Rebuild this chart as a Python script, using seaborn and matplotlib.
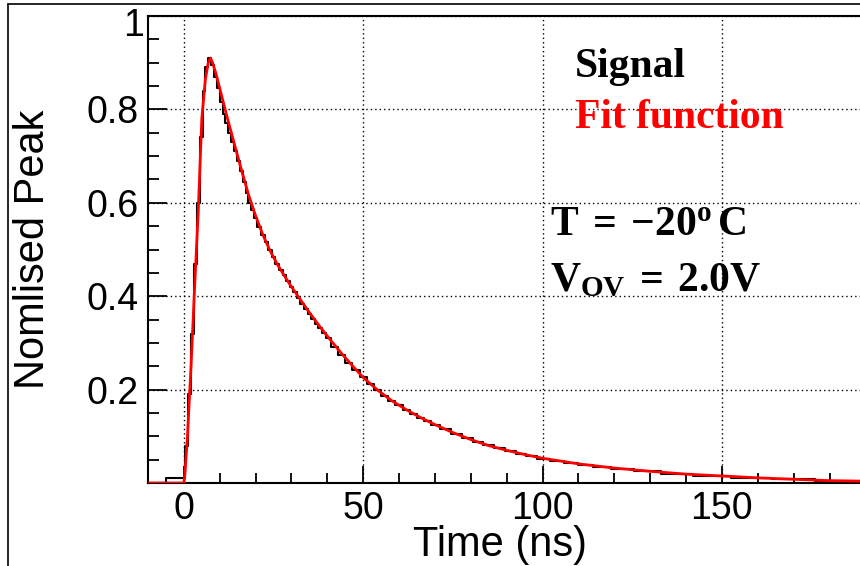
import numpy as np
import pandas as pd
import matplotlib
matplotlib.use("Agg")
import matplotlib.pyplot as plt
import seaborn as sns
from matplotlib.lines import Line2D
from matplotlib.transforms import ScaledTranslation

# ---------------- data ----------------
sig_time = [-10, 0.0, 0.8, 1.6, 2.4, 3.2, 4.0, 4.8, 5.6, 6.4, 7.2, 8.0, 8.8, 9.6,
            10.4, 11.2, 12.0, 12.8, 13.6, 14.4, 15.2, 16.0, 16.8, 17.6, 18.4,
            19.2, 20, 21, 22, 23, 24, 25, 26, 27, 28, 29, 30, 31, 32, 33, 34,
            35, 36, 37, 38, 39, 40, 42, 44, 46, 48, 50, 52, 54, 56, 58, 60, 62,
            64, 66, 68, 70, 73, 76, 79, 82, 85, 88, 91, 94, 97, 100, 104, 108,
            112, 116, 122, 129, 137, 147, 158, 170, 182, 188.5]
sig_value = [0.0, 0.01, 0.08, 0.19, 0.32, 0.47, 0.60, 0.74, 0.84, 0.89, 0.91,
             0.895, 0.87, 0.845, 0.815, 0.79, 0.77, 0.75, 0.73, 0.71, 0.69,
             0.668, 0.645, 0.622, 0.60, 0.585, 0.568, 0.548, 0.53, 0.515, 0.50,
             0.485, 0.47, 0.457, 0.445, 0.432, 0.42, 0.408, 0.396, 0.384, 0.372,
             0.362, 0.351, 0.341, 0.331, 0.321, 0.311, 0.292, 0.275, 0.258,
             0.241, 0.226, 0.212, 0.199, 0.187, 0.176, 0.166, 0.157, 0.148,
             0.14, 0.132, 0.125, 0.115, 0.105, 0.096, 0.088, 0.081, 0.074,
             0.068, 0.062, 0.057, 0.052, 0.047, 0.043, 0.039, 0.035, 0.030,
             0.025, 0.020, 0.015, 0.011, 0.008, 0.004, 0.004]

fit_time = [-10, 0, 0.3, 1.0, 2.0, 3.0, 4.0, 5.0, 6.0, 6.8, 7.4, 8.0, 9.0, 10,
            11, 12, 14, 16, 18, 20, 22, 24, 26, 28, 30, 32, 35, 38, 41, 44, 47,
            50, 54, 58, 62, 66, 70, 75, 80, 85, 90, 95, 100, 110, 120, 130, 140,
            150, 160, 170, 180, 188.5]
fit_value = [0, 0, 0.02, 0.10, 0.25, 0.42, 0.58, 0.78, 0.865, 0.90, 0.91, 0.90,
             0.875, 0.845, 0.815, 0.785, 0.728, 0.672, 0.618, 0.572, 0.532,
             0.498, 0.469, 0.444, 0.42, 0.398, 0.365, 0.334, 0.305, 0.277,
             0.251, 0.226, 0.199, 0.176, 0.157, 0.14, 0.125, 0.108, 0.093,
             0.080, 0.070, 0.061, 0.053, 0.041, 0.032, 0.025, 0.019, 0.015,
             0.011, 0.008, 0.005, 0.004]

x_ticks = [0, 50, 100, 150]
x_tick_labels = ["0", "50", "100", "150"]
y_ticks = [0.2, 0.4, 0.6, 0.8, 1.0]
y_tick_labels = ["0.2", "0.4", "0.6", "0.8", "1"]

sig_df = pd.DataFrame({"time": sig_time, "value": sig_value})
fit_df = pd.DataFrame({"time": fit_time, "value": fit_value})

# ---------------- style ----------------
sns.set_theme(style="ticks")
plt.rcParams["font.family"] = ["Liberation Sans", "DejaVu Sans"]
plt.rcParams["mathtext.fontset"] = "custom"
plt.rcParams["mathtext.rm"] = "Liberation Serif:bold"
plt.rcParams["mathtext.it"] = "Liberation Serif:bold"
plt.rcParams["mathtext.bf"] = "Liberation Serif:bold"

W, H = 860, 566
fig = plt.figure(figsize=(W / 100, H / 100), dpi=100)
fig.patch.set_facecolor("white")

ax_l, ax_r, ax_t, ax_b = 148, 860, 16, 483
ax = fig.add_axes([ax_l / W, 1 - ax_b / H, (ax_r - ax_l) / W, (ax_b - ax_t) / H])
ax.set_facecolor("white")

sns.lineplot(data=sig_df, x="time", y="value", ax=ax, color="black",
             linewidth=1.5, drawstyle="steps-mid", estimator=None, sort=False,
             zorder=3)
sns.lineplot(data=fit_df, x="time", y="value", ax=ax, color="#ff0000",
             linewidth=2.0, estimator=None, sort=False, zorder=4)

ax.set_xlim(-10, 188.5)
ax.set_ylim(0, 1.0)

ax.set_xticks(x_ticks)
ax.set_xticklabels(x_tick_labels)
ax.set_xticks(np.arange(-10, 189, 10), minor=True)
ax.set_yticks(y_ticks)
ax.set_yticklabels(y_tick_labels)
ax.set_yticks(np.arange(0.05, 1.0, 0.05), minor=True)

ax.tick_params(axis="both", which="both", direction="in", color="black",
               width=1.3, labelcolor="black", labelsize=27)
ax.tick_params(axis="x", which="major", length=12, pad=6)
ax.tick_params(axis="x", which="minor", length=7.5)
ax.tick_params(axis="y", which="major", length=14, pad=7)
ax.tick_params(axis="y", which="minor", length=8)

ax.grid(True, which="major", color="black", linestyle=(0, (1, 2.2)),
        linewidth=1.0)
ax.set_axisbelow(True)

for s in ["left", "bottom", "top"]:
    ax.spines[s].set_color("black")
    ax.spines[s].set_linewidth(1.5)
ax.spines["right"].set_visible(False)

ax.set_xlabel("Time (ns)", fontsize=30, color="black")
ax.set_ylabel("Nomlised Peak", fontsize=30, color="black")
ax.xaxis.set_label_coords(0.494, -0.09)
ax.yaxis.set_label_coords(-0.133, 0.5)

# shift the "1" label down / right like the reference
tk = ax.yaxis.get_major_ticks()[-1]
tk.label1.set_transform(tk.label1.get_transform() +
                        ScaledTranslation(6 / 100, -6 / 100, fig.dpi_scale_trans))

# annotations
fig.text(575 / W, 1 - 77 / H, "Signal", fontsize=30, fontweight="bold",
         family="Liberation Serif", color="black", va="baseline", ha="left")
fig.text(575 / W, 1 - 128 / H, "Fit function", fontsize=30, fontweight="bold",
         family="Liberation Serif", color="#ff0000", va="baseline", ha="left")
fig.text(550 / W, 1 - 235 / H, r"$T\:{=}\:{-}20^{o}\,C$", fontsize=30,
         color="black", va="baseline", ha="left")
fig.text(550 / W, 1 - 291 / H, r"$V_{OV}\:{=}\:2.0V$", fontsize=30,
         color="black", va="baseline", ha="left")

# outer border (left and top edges visible in the reference)
fig.add_artist(Line2D([8 / W, 8 / W], [0, 1 - 4 / H], transform=fig.transFigure,
                      color="black", linewidth=1.2))
fig.add_artist(Line2D([8 / W, 1], [1 - 4 / H, 1 - 4 / H],
                      transform=fig.transFigure, color="black", linewidth=1.2))

fig.savefig("out.png", dpi=100)
